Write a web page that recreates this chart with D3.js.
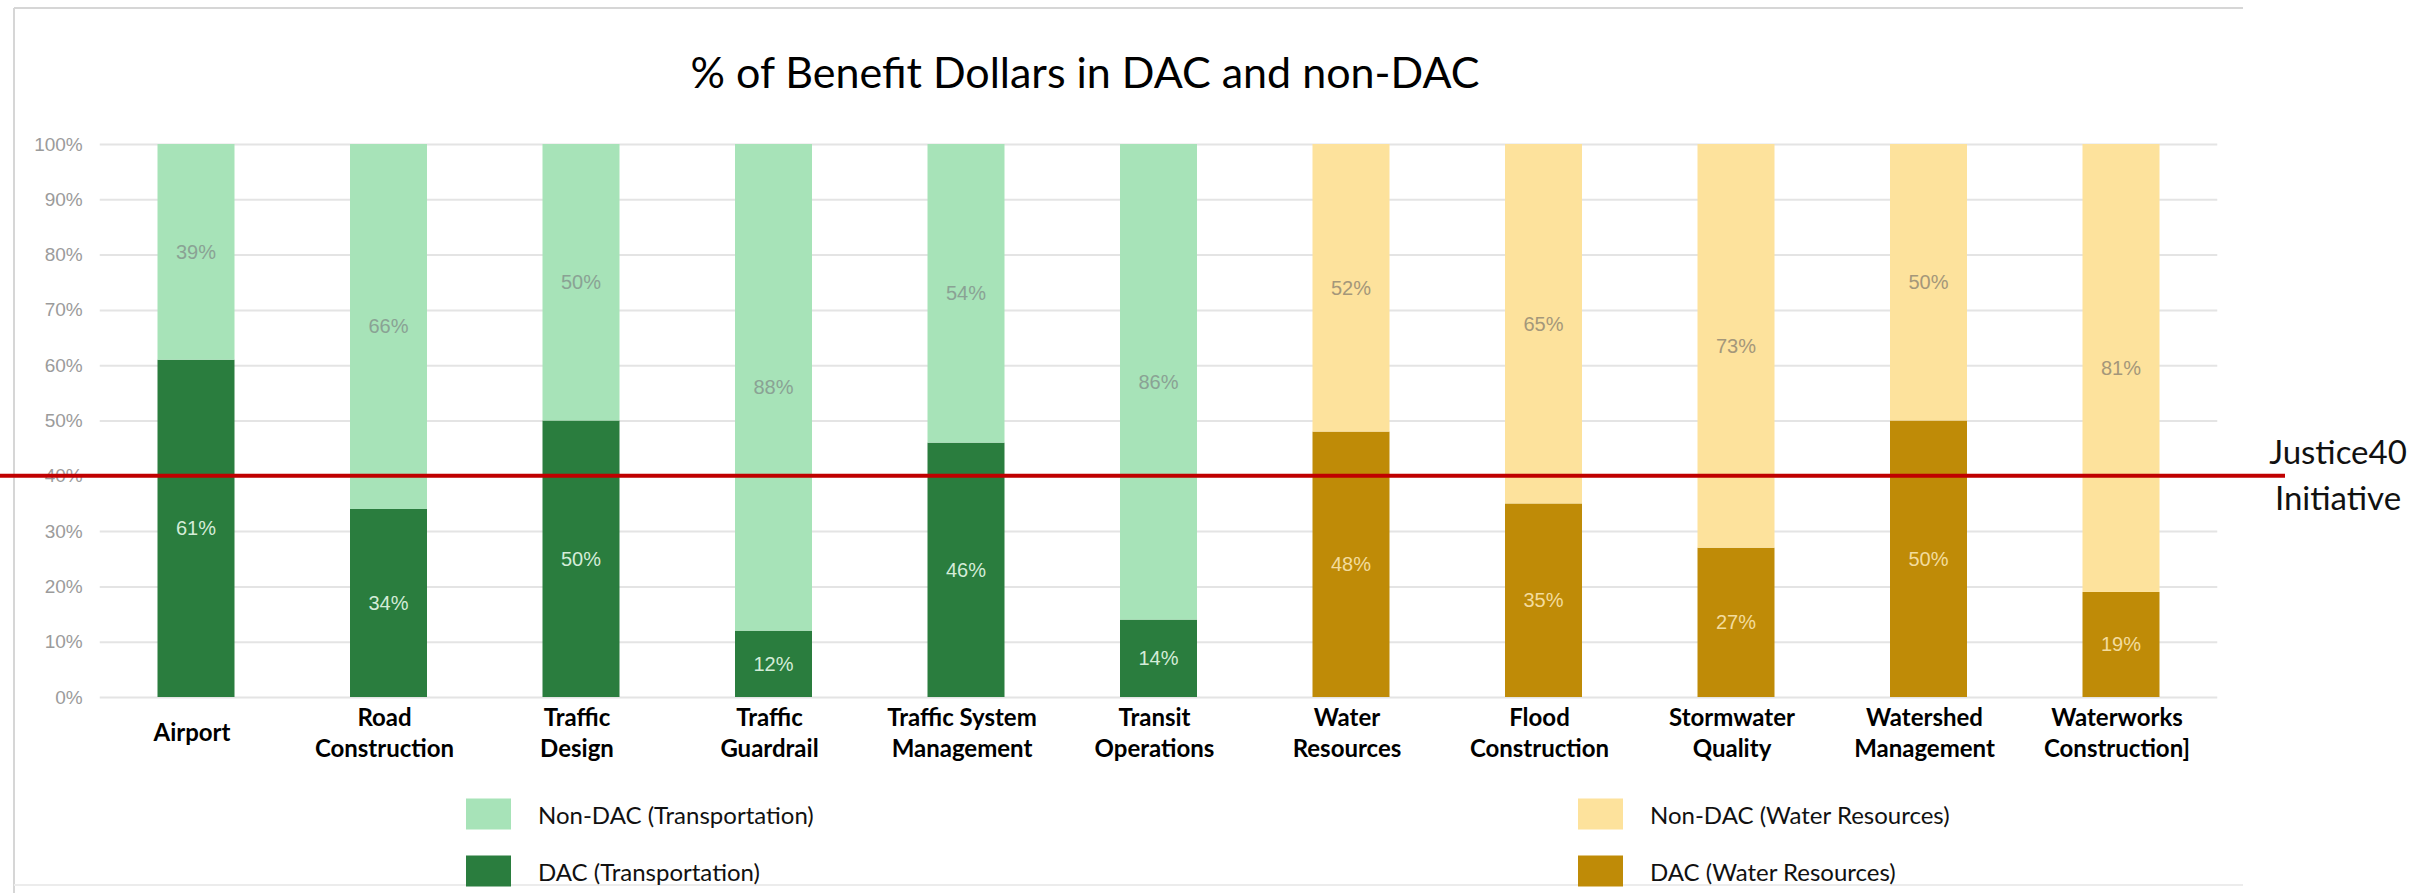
<!DOCTYPE html>
<html>
<head>
<meta charset="utf-8">
<script src="https://cdn.jsdelivr.net/npm/d3@7"></script>
<style>
  html, body { margin: 0; padding: 0; background: #ffffff; }
  svg { display: block; }
</style>
</head>
<body>
<svg id="chart" width="2422" height="893"></svg>
<script>
// ---- Data ----
const categories = [
  "Airport", "Road Construction", "Traffic Design", "Traffic Guardrail",
  "Traffic System Management", "Transit Operations", "Water Resources",
  "Flood Construction", "Stormwater Quality", "Watershed Management",
  "Waterworks Construction]"
];
const categoryLines = [
  ["Airport"], ["Road", "Construction"], ["Traffic", "Design"], ["Traffic", "Guardrail"],
  ["Traffic System", "Management"], ["Transit", "Operations"], ["Water", "Resources"],
  ["Flood", "Construction"], ["Stormwater", "Quality"], ["Watershed", "Management"],
  ["Waterworks", "Construction]"]
];
const sectors = [
  "Transportation", "Transportation", "Transportation", "Transportation",
  "Transportation", "Transportation", "Water Resources", "Water Resources",
  "Water Resources", "Water Resources", "Water Resources"
];
const dacShare    = [61, 34, 50, 12, 46, 14, 48, 35, 27, 50, 19];
const nonDacShare = [39, 66, 50, 88, 54, 86, 52, 65, 73, 50, 81];
const yTicks = [0, 10, 20, 30, 40, 50, 60, 70, 80, 90, 100];
const justice40Target = 40;
const legendItems = [
  { key: "nonDac", sector: "Transportation",  label: "Non-DAC (Transportation)" },
  { key: "dac",    sector: "Transportation",  label: "DAC (Transportation)" },
  { key: "nonDac", sector: "Water Resources", label: "Non-DAC (Water Resources)" },
  { key: "dac",    sector: "Water Resources", label: "DAC (Water Resources)" }
];

// ---- Styles ----
const palette = {
  "Transportation":  { dac: "#2a7d3e", nonDac: "#a7e3b8", dacText: "#d4ecd8", nonDacText: "#8aa294" },
  "Water Resources": { dac: "#bf8b07", nonDac: "#fde29c", dacText: "#f3dc9e", nonDacText: "#a4977a" }
};
const calibriLike = "Lato, 'Open Sans', sans-serif";
const arialLike = "'Liberation Sans', Arial, sans-serif";

const svg = d3.select("#chart");

// light frame around the chart area
const frame = svg.append("g").attr("stroke", "#d6d6d6").attr("stroke-width", 2).attr("fill", "none");
frame.append("line").attr("x1", 14).attr("x2", 2243).attr("y1", 8).attr("y2", 8);
frame.append("line").attr("x1", 14).attr("x2", 14).attr("y1", 8).attr("y2", 893);
frame.append("line").attr("x1", 14).attr("x2", 2243).attr("y1", 885).attr("y2", 885).attr("stroke", "#ececec");

// ---- Scales ----
const x = d3.scaleBand()
  .domain(categories)
  .range([99.75, 2217.25])
  .paddingInner(0.6)
  .paddingOuter(0.3);

const y = d3.scaleLinear().domain([0, 100]).range([697, 144]);

// ---- Gridlines + y axis ----
const yAxis = d3.axisLeft(y)
  .tickValues(yTicks)
  .tickSize(-(x.range()[1] - x.range()[0]))
  .tickPadding(17)
  .tickFormat(d => d + "%");

const yAxisG = svg.append("g")
  .attr("transform", `translate(${x.range()[0]},0)`)
  .call(yAxis);
yAxisG.select(".domain").remove();
yAxisG.selectAll(".tick line").attr("stroke", "#e4e4e4").attr("stroke-width", 2);
yAxisG.selectAll(".tick text")
  .attr("fill", "#9b9b9b")
  .attr("font-family", arialLike)
  .attr("font-size", 19);

// ---- Stacked bars ----
const rows = categories.map((c, i) => ({
  category: c, sector: sectors[i], dac: dacShare[i], nonDac: nonDacShare[i]
}));
const stack = d3.stack().keys(["dac", "nonDac"]);
const series = stack(rows);

const barsG = svg.append("g");
series.forEach(s => {
  const key = s.key;
  const g = barsG.append("g");
  g.selectAll("rect")
    .data(s)
    .join("rect")
    .attr("x", d => x(d.data.category))
    .attr("width", x.bandwidth())
    .attr("y", d => y(d[1]))
    .attr("height", d => y(d[0]) - y(d[1]))
    .attr("fill", d => palette[d.data.sector][key]);

  g.selectAll("text")
    .data(s)
    .join("text")
    .attr("x", d => x(d.data.category) + x.bandwidth() / 2)
    .attr("y", d => y((d[0] + d[1]) / 2))
    .attr("text-anchor", "middle")
    .attr("dominant-baseline", "central")
    .attr("font-family", arialLike)
    .attr("font-size", 20)
    .attr("fill", d => palette[d.data.sector][key + "Text"])
    .text(d => d.data[key] + "%");
});

// ---- Justice40 threshold ----
svg.append("line")
  .attr("x1", 0)
  .attr("x2", 2285)
  .attr("y1", y(justice40Target))
  .attr("y2", y(justice40Target))
  .attr("stroke", "#c00000")
  .attr("stroke-width", 4);

const j40 = svg.append("text")
  .attr("font-family", calibriLike)
  .attr("font-size", 33)
  .attr("fill", "#111")
  .attr("text-anchor", "middle");
j40.append("tspan").attr("x", 2338).attr("y", y(justice40Target) - 12).text("Justice40");
j40.append("tspan").attr("x", 2338).attr("y", y(justice40Target) + 34).text("Initiative");

// ---- Category labels ----
const catG = svg.append("g")
  .attr("font-family", calibriLike)
  .attr("font-weight", 700)
  .attr("font-size", 24)
  .attr("fill", "#000")
  .attr("text-anchor", "middle");
categories.forEach((c, i) => {
  const lines = categoryLines[i];
  const cx = x(c) + x.bandwidth() / 2 - 4;
  const t = catG.append("text").attr("dominant-baseline", "central");
  lines.forEach((ln, k) => {
    const cy = lines.length === 1 ? 731 : 716 + k * 31;
    t.append("tspan").attr("x", cx).attr("y", cy).text(ln);
  });
});

// ---- Title ----
svg.append("text")
  .attr("x", 1085)
  .attr("y", 88)
  .attr("text-anchor", "middle")
  .attr("font-family", calibriLike)
  .attr("font-size", 43)
  .attr("fill", "#000")
  .text("% of Benefit Dollars in DAC and non-DAC");

// ---- Legend ----
const legendPos = [
  { x: 466, y: 814 }, { x: 466, y: 871 },
  { x: 1578, y: 814 }, { x: 1578, y: 871 }
];
const legendG = svg.append("g");
legendItems.forEach((item, i) => {
  const p = legendPos[i];
  legendG.append("rect")
    .attr("x", p.x).attr("y", p.y - 15.5)
    .attr("width", 45).attr("height", 31)
    .attr("fill", palette[item.sector][item.key]);
  legendG.append("text")
    .attr("x", p.x + 72).attr("y", p.y)
    .attr("dominant-baseline", "central")
    .attr("font-family", calibriLike)
    .attr("font-size", 24)
    .attr("fill", "#111")
    .text(item.label);
});
</script>
</body>
</html>
